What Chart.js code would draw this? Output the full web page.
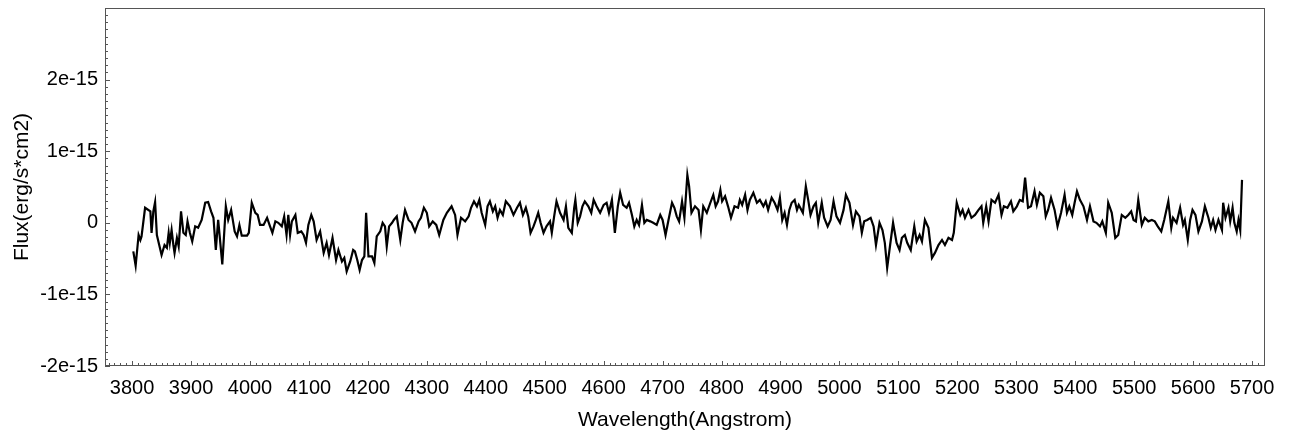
<!DOCTYPE html>
<html>
<head>
<meta charset="utf-8">
<script src="https://cdn.jsdelivr.net/npm/chart.js@4"></script>
<style>
  html, body { margin: 0; padding: 0; background: #fff; }
  canvas { display: block; }
</style>
</head>
<body>
<canvas id="spectrum" width="1293" height="441"></canvas>
<script>
// wavelength (Angstrom) and flux (in units of 1e-15 erg/s*cm2)
const wavelength = [
  3802, 3806, 3811, 3814, 3816, 3822, 3831, 3833, 3836, 3839,
  3842, 3850, 3855, 3859, 3862, 3864, 3867, 3870, 3872, 3876,
  3879, 3883, 3887, 3891, 3894, 3898, 3902, 3907, 3912, 3918,
  3924, 3929, 3934, 3938, 3942, 3946, 3953, 3959, 3963, 3968,
  3974, 3978, 3982, 3986, 3995, 3998, 4003, 4009, 4013, 4017,
  4023, 4029, 4034, 4038, 4043, 4048, 4054, 4058, 4062, 4065,
  4068, 4071, 4077, 4081, 4087, 4091, 4095, 4099, 4104, 4108,
  4113, 4119, 4125, 4130, 4134, 4140, 4146, 4150, 4156, 4160,
  4164, 4170, 4175, 4178, 4182, 4186, 4190, 4194, 4197, 4201,
  4207, 4211, 4215, 4221, 4225, 4229, 4232, 4236, 4241, 4244,
  4249, 4255, 4259, 4263, 4269, 4274, 4280, 4286, 4290, 4295,
  4300, 4304, 4310, 4316, 4321, 4328, 4334, 4342, 4348, 4352,
  4358, 4365, 4371, 4375, 4380, 4385, 4389, 4393, 4399, 4403,
  4407, 4412, 4416, 4420, 4424, 4429, 4434, 4441, 4447, 4453,
  4458, 4463, 4468, 4472, 4476, 4481, 4485, 4489, 4493, 4498,
  4503, 4509, 4512, 4516, 4520, 4526, 4532, 4536, 4540, 4546,
  4550, 4552, 4556, 4560, 4564, 4568, 4574, 4579, 4583, 4588,
  4594, 4600, 4605, 4609, 4614, 4619, 4624, 4628, 4633, 4639,
  4643, 4648, 4652, 4656, 4660, 4665, 4669, 4673, 4679, 4684,
  4690, 4696, 4700, 4705, 4710, 4716, 4720, 4724, 4728, 4733,
  4737, 4742, 4745, 4749, 4755, 4761, 4765, 4769, 4775, 4781,
  4786, 4790, 4794, 4798, 4801, 4806, 4811, 4816, 4822, 4828,
  4831, 4835, 4840, 4844, 4848, 4854, 4860, 4865, 4871, 4875,
  4879, 4885, 4890, 4895, 4899, 4903, 4907, 4911, 4915, 4919,
  4924, 4928, 4931, 4938, 4943, 4947, 4951, 4956, 4960, 4964,
  4970, 4974, 4980, 4985, 4990, 4995, 5001, 5007, 5011, 5017,
  5023, 5028, 5034, 5038, 5042, 5047, 5053, 5058, 5062, 5068,
  5073, 5077, 5081, 5086, 5091, 5097, 5102, 5106, 5111, 5115,
  5121, 5127, 5131, 5136, 5140, 5145, 5151, 5157, 5162, 5168,
  5174, 5179, 5185, 5191, 5194, 5199, 5205, 5209, 5213, 5219,
  5224, 5230, 5236, 5241, 5244, 5249, 5253, 5258, 5264, 5270,
  5275, 5279, 5285, 5291, 5295, 5301, 5306, 5311, 5315, 5320,
  5325, 5331, 5335, 5340, 5346, 5350, 5354, 5359, 5365, 5370,
  5376, 5382, 5386, 5390, 5395, 5399, 5403, 5408, 5414, 5420,
  5425, 5431, 5436, 5442, 5446, 5452, 5456, 5462, 5468, 5473,
  5479, 5485, 5490, 5495, 5499, 5503, 5507, 5513, 5518, 5524,
  5530, 5535, 5540, 5546, 5551, 5558, 5563, 5566, 5572, 5578,
  5583, 5586, 5591, 5595, 5599, 5604, 5609, 5615, 5620, 5626,
  5630, 5634, 5638, 5643, 5649, 5651, 5655, 5660, 5663, 5667,
  5670, 5674, 5677, 5680, 5683
];
const fluxE15 = [
  -0.40, -0.60, -0.17, -0.24, -0.19, 0.21, 0.16, -0.14, 0.16, 0.29,
  -0.17, -0.45, -0.31, -0.35, -0.14, -0.28, -0.10, -0.31, -0.42, -0.21,
  -0.33, 0.16, -0.14, -0.17, 0.02, -0.14, -0.26, -0.05, -0.07, 0.04,
  0.28, 0.29, 0.16, 0.07, -0.38, 0.04, -0.58, 0.23, 0.04, 0.18,
  -0.12, -0.19, -0.03, -0.18, -0.18, -0.14, 0.28, 0.14, 0.11, -0.03,
  -0.03, 0.07, -0.05, -0.14, 0.02, 0.00, -0.05, 0.09, -0.17, 0.11,
  -0.17, 0.02, 0.11, -0.14, -0.12, -0.17, -0.28, -0.03, 0.11, 0.02,
  -0.24, -0.12, -0.42, -0.28, -0.45, -0.21, -0.52, -0.38, -0.54, -0.49,
  -0.68, -0.54, -0.38, -0.40, -0.52, -0.66, -0.52, -0.47, 0.14, -0.47,
  -0.47, -0.56, -0.19, -0.12, 0.00, -0.05, -0.33, -0.05, 0.00, 0.04,
  0.09, -0.24, 0.00, 0.18, 0.04, 0.00, -0.12, 0.02, 0.07, 0.21,
  0.14, -0.05, 0.02, -0.03, -0.17, 0.04, 0.14, 0.23, 0.11, -0.17,
  0.07, 0.02, 0.09, 0.21, 0.30, 0.23, 0.32, 0.14, -0.03, 0.23,
  0.30, 0.16, 0.23, 0.07, 0.18, 0.11, 0.30, 0.23, 0.11, 0.21,
  0.28, 0.11, 0.21, 0.09, -0.14, -0.05, 0.04, 0.14, 0.00, -0.14,
  -0.05, 0.02, -0.14, 0.09, 0.30, 0.14, 0.04, 0.23, -0.07, -0.14,
  0.21, 0.32, 0.00, 0.09, 0.23, 0.30, 0.23, 0.14, 0.32, 0.23,
  0.14, 0.25, 0.28, 0.14, 0.32, -0.14, 0.23, 0.42, 0.25, 0.21,
  0.28, 0.11, -0.05, 0.04, -0.03, 0.25, 0.00, 0.04, 0.02, 0.00,
  -0.03, 0.11, 0.04, -0.17, 0.04, 0.28, 0.21, 0.09, 0.02, 0.30,
  0.07, 0.67, 0.51, 0.14, 0.23, 0.18, -0.10, 0.23, 0.14, 0.28,
  0.39, 0.23, 0.30, 0.46, 0.30, 0.37, 0.23, 0.07, 0.23, 0.21,
  0.32, 0.25, 0.39, 0.18, 0.32, 0.42, 0.28, 0.32, 0.23, 0.30,
  0.18, 0.35, 0.28, 0.18, 0.35, 0.04, 0.14, -0.03, 0.18, 0.28,
  0.32, 0.18, 0.25, 0.14, 0.51, 0.32, 0.11, 0.23, 0.28, 0.00,
  0.28, 0.07, -0.05, 0.04, 0.30, 0.09, 0.00, 0.18, 0.39, 0.28,
  -0.03, 0.16, 0.09, -0.14, 0.02, 0.04, 0.07, -0.05, -0.31, 0.00,
  -0.10, -0.28, -0.63, -0.31, 0.00, -0.28, -0.38, -0.21, -0.17, -0.28,
  -0.38, -0.05, -0.26, -0.17, -0.26, 0.04, -0.07, -0.49, -0.42, -0.31,
  -0.24, -0.31, -0.21, -0.24, -0.14, 0.28, 0.11, 0.18, 0.07, 0.18,
  0.07, 0.11, 0.18, 0.23, 0.00, 0.23, 0.02, 0.32, 0.28, 0.39,
  0.11, 0.23, 0.21, 0.30, 0.16, 0.23, 0.32, 0.30, 0.63, 0.21,
  0.23, 0.44, 0.25, 0.42, 0.37, 0.09, 0.18, 0.35, 0.18, -0.05,
  0.14, 0.39, 0.14, 0.23, 0.11, 0.28, 0.44, 0.32, 0.23, 0.04,
  0.23, 0.02, 0.00, -0.05, 0.02, -0.14, 0.28, 0.14, -0.21, -0.17,
  0.11, 0.07, 0.11, 0.16, 0.04, 0.02, 0.32, -0.03, 0.07, 0.02,
  0.04, 0.02, -0.05, -0.12, 0.04, 0.30, -0.07, 0.07, 0.00, 0.21,
  -0.03, 0.04, -0.24, 0.04, 0.18, 0.11, -0.12, 0.02, 0.23, 0.07,
  -0.07, 0.04, -0.10, 0.04, -0.10, 0.28, 0.07, 0.21, 0.02, 0.21,
  0.00, -0.12, 0.04, -0.10, 0.60
];

const xTicks = [3800, 3900, 4000, 4100, 4200, 4300, 4400, 4500, 4600, 4700,
  4800, 4900, 5000, 5100, 5200, 5300, 5400, 5500, 5600, 5700];
const yTicks = [-2e-15, -1e-15, 0, 1e-15, 2e-15];
const xRange = [3754, 5722];
const yRange = [-2e-15, 3e-15];

const FONT = '"Liberation Sans", Arial, sans-serif';

// frame around the plot plus small inward ticks (minor every 10 A / 1e-16)
const frameTicks = {
    id: 'frameTicks',
    afterDraw(chart) {
        const { ctx, chartArea: a, scales } = chart;
        const xs = scales.x, ys = scales.y;
        ctx.save();
        ctx.strokeStyle = '#555';
        ctx.lineWidth = 1;
        ctx.strokeRect(a.left + 0.5, a.top + 0.5, a.right - a.left - 1, a.bottom - a.top - 1);
        ctx.beginPath();
        for (let w = 3760; w <= xRange[1]; w += 10) {
            const px = Math.round(xs.getPixelForValue(w)) + 0.5;
            const len = w % 100 === 0 ? 5 : 3;
            ctx.moveTo(px, a.bottom);
            ctx.lineTo(px, a.bottom - len);
        }
        for (let i = -20; i <= 30; i++) {
            const py = Math.round(ys.getPixelForValue(i * 1e-16)) + 0.5;
            const len = i % 10 === 0 ? 5 : 3;
            ctx.moveTo(a.left, py);
            ctx.lineTo(a.left + len, py);
        }
        ctx.stroke();
        ctx.restore();
    }
};

const ctx = document.getElementById('spectrum').getContext('2d');
new Chart(ctx, {
    type: 'line',
    data: {
        datasets: [{
            data: wavelength.map((w, i) => ({ x: w, y: fluxE15[i] * 1e-15 })),
            borderColor: '#000',
            borderWidth: 2.2,
            pointRadius: 0,
            tension: 0,
            fill: false
        }]
    },
    options: {
        responsive: false,
        animation: false,
        devicePixelRatio: 1,
        layout: { padding: { top: 8, right: 28, left: 0, bottom: 0 } },
        plugins: { legend: { display: false }, tooltip: { enabled: false } },
        scales: {
            x: {
                type: 'linear',
                min: xRange[0],
                max: xRange[1],
                afterBuildTicks: s => { s.ticks = xTicks.map(v => ({ value: v })); },
                afterFit: s => { s.height = 75; },
                grid: { display: false, drawTicks: false },
                border: { display: false },
                ticks: {
                    color: '#000',
                    padding: 10,
                    maxRotation: 0,
                    autoSkip: false,
                    font: { family: FONT, size: 20 },
                    callback: v => String(v)
                },
                title: {
                    display: true,
                    text: 'Wavelength(Angstrom)',
                    color: '#000',
                    font: { family: FONT, size: 21 },
                    padding: { top: 0, bottom: 8 }
                }
            },
            y: {
                type: 'linear',
                min: yRange[0],
                max: yRange[1],
                afterBuildTicks: s => { s.ticks = yTicks.map(v => ({ value: v })); },
                afterFit: s => { s.width = 105; },
                grid: { display: false, drawTicks: false },
                border: { display: false },
                ticks: {
                    color: '#000',
                    padding: 7,
                    font: { family: FONT, size: 20, lineHeight: 0.05 },
                    callback: v => v === 0 ? '0' : Math.round(v * 1e15) + 'e-15'
                },
                title: {
                    display: true,
                    text: 'Flux(erg/s*cm2)',
                    color: '#000',
                    font: { family: FONT, size: 21 },
                    padding: { top: 10, bottom: 0 }
                }
            }
        }
    },
    plugins: [frameTicks]
});
</script>
</body>
</html>
